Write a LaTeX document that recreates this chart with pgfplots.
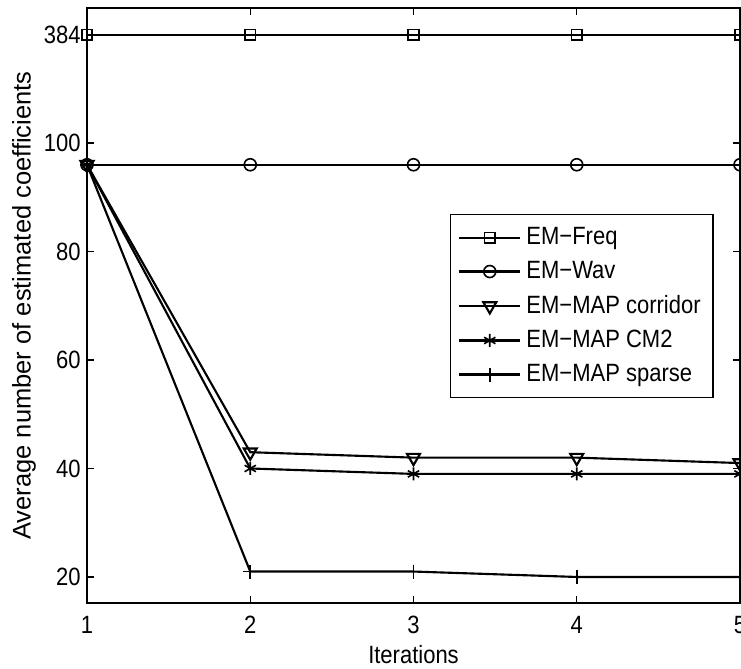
\documentclass[border=0pt]{standalone}
\usepackage{fontspec}
\setmainfont{Liberation Sans}[FakeStretch=0.88]
\newfontfamily\ylabfont{Liberation Sans}
\usepackage{pgfplots}
\pgfplotsset{compat=1.18}
\begin{document}
\fontsize{10}{12}\selectfont
\begin{tikzpicture}
\begin{axis}[
  scale only axis, width=261.2pt, height=238pt,
  xmin=1, xmax=5, ymin=15.2, ymax=124.9,
  xtick={1,2,3,4,5},
  ytick={20,40,60,80,100,120},
  yticklabels={20,40,60,80,100,384},
  tick align=inside, major tick length=2.8pt,
  /pgf/number format/assume math mode=true,
  tick label style={font=\fontsize{10}{12}\selectfont},
  xticklabel style={yshift=-1.6pt},
  yticklabel style={xshift=1.0pt},
  xlabel={Iterations},
  ylabel={Average number of estimated coefficients},
  every axis x label/.style={at={(rel axis cs:0.5,0)}, anchor=center, yshift=-20.8pt, font=\fontsize{10}{12}\selectfont},
  every axis y label/.style={at={(rel axis cs:-0.0965,0.5)}, rotate=90, anchor=center, font=\ylabfont\fontsize{10.2}{12}\selectfont},
  axis line style={line width=0.6pt},
  every tick/.style={black, line width=0.5pt},
  every axis plot/.append style={black, line width=0.85pt, mark options={solid, line width=0.65pt}},
  legend style={at={(0.96,0.654)}, anchor=north east, draw=black, line width=0.6pt,
    font=\fontsize{10}{12}\selectfont, row sep=1.2pt, inner xsep=3pt, inner ysep=3pt},
  legend cell align=left,
  legend image code/.code={\draw[mark repeat=2,mark phase=2] plot coordinates {(0cm,0cm)(0.43cm,0cm)(0.86cm,0cm)};},
]
\addplot[mark=square, mark size=2.1pt] coordinates {(1,120)(2,120)(3,120)(4,120)(5,120)};
\addlegendentry{EM−Freq}
\addplot[mark=o, mark size=2.4pt] coordinates {(1,96)(2,96)(3,96)(4,96)(5,96)};
\addlegendentry{EM−Wav}
\addplot[mark=triangle, mark size=3pt, mark options={rotate=180}] coordinates {(1,96)(2,43)(3,42)(4,42)(5,41)};
\addlegendentry{EM−MAP corridor}
\addplot[mark=asterisk, mark size=2.6pt] coordinates {(1,96)(2,40)(3,39)(4,39)(5,39)};
\addlegendentry{EM−MAP CM2}
\addplot[mark=+, mark size=2.8pt] coordinates {(1,96)(2,21)(3,21)(4,20)(5,20)};
\addlegendentry{EM−MAP sparse}
\coordinate (sw) at (rel axis cs:0,0);
\coordinate (ne) at (rel axis cs:1,1);
\end{axis}
\pgfresetboundingbox
\useasboundingbox ([xshift=-34.8pt,yshift=-26pt]sw) rectangle ([xshift=0.4pt,yshift=3.2pt]ne);
\end{tikzpicture}
\end{document}
